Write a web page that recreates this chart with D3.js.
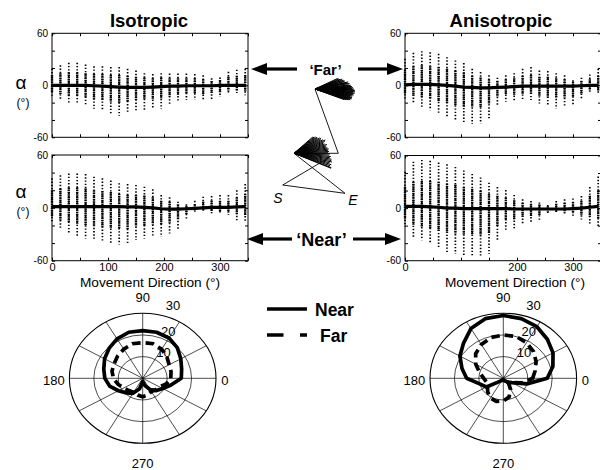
<!DOCTYPE html>
<html>
<head>
<meta charset="utf-8">
<script src="https://cdnjs.cloudflare.com/ajax/libs/d3/7.8.5/d3.min.js"></script>
<style>
body { margin: 0; background: #fff; }
text { font-family: "Liberation Sans", Arial, Helvetica, sans-serif; fill: #000; }
</style>
</head>
<body>
<script>
// movement directions (deg)
var directions = [0,15,30,45,60,75,90,105,120,135,150,165,180,195,210,225,240,255,270,285,300,315,330,345];

// alpha per direction: [min, dense low, mean, dense high, max]
var isoFar = [[-13.5,-8,0,12,19],[-17,-10,0,14,23],[-20.5,-12,0,15,26],[-21,-13,0,15,26],[-24,-14,0,14,24],[-27,-16,-0.5,13,22],[-29,-17,-1,13,22],[-33,-19,-1.5,12,21],[-35,-20,-2,12,21],[-32,-19,-2.5,11,19],[-30,-17,-2.5,10,17],[-29,-16,-2.5,9,14],[-27,-16,-2,8,13],[-27,-15,-1.5,9,14],[-23,-13,-1,8,13.5],[-19,-11,-1,8,13.5],[-17,-10,-0.5,8,13.5],[-17,-10,-0.5,8,13],[-17,-10,-0.5,7,11.5],[-16,-9,-0.5,5,8],[-13.5,-8,0,6,9],[-9,-6,0,10,15.5],[-9,-6,0,11,18],[-11.5,-7,0,12,19]];
var isoNear = [[-15.7,-10,1.5,20,33.5],[-25,-14,1.5,22,37],[-28,-16,1.5,23,39],[-32,-18,1.5,23,39],[-34.7,-20,1.5,22,38.4],[-37,-21,1.5,20,35.4],[-38.4,-22,1.5,19,33.5],[-40,-23,1.5,18,31],[-41.5,-24,1.5,16,28],[-41,-24,1,15,27],[-36.5,-21,1,15,26],[-34.7,-20,0.5,14,24],[-32,-19,0,12,21],[-32.8,-19,-1,8,14.6],[-29,-17,-1.5,7,12],[-25,-14,-1.5,4,7],[-12,-7,-1,2,4],[-4.4,-3,-0.5,4,8],[-4.4,-3,0,7,12.7],[-6,-4,0.5,8,13.4],[-5.5,-4,0.5,8,14.6],[-8,-5,0.5,8,14.6],[-14,-8,1,12,20],[-15.7,-9,1.5,16,27]];
var anisoFar = [[-17,-10,0.5,18,30.6],[-21,-12,1,22,37.5],[-24.8,-14,1,23,39.4],[-28.7,-16,1,22,38],[-32.5,-18,0.5,21,36.3],[-37,-21,0,19,32.5],[-41,-23,-1,17,28.7],[-44.7,-25,-2,15,25.6],[-44.7,-25,-2.5,11,19],[-44,-25,-3,9,15.3],[-39.4,-22,-3,7,11.5],[-23,-13,-2.5,5,8.8],[-19,-11,-2,7,11.5],[-19,-11,-1.5,8,14],[-17,-10,-1,11,19],[-17,-10,-1,12,21],[-21,-12,-1,10,17],[-24,-14,-1,10,16.4],[-26.7,-15,-1,8,14],[-24.8,-14,-1,7,11.5],[-23,-13,-1,4,5.7],[-17,-10,-0.5,5,8.8],[-9.6,-6,0,7,12.6],[-9.6,-6,0,11,19]];
var anisoNear = [[-21,-12,2,24,41.5],[-33,-19,2,30,53],[-36.6,-21,2,31,55],[-40,-23,1.5,31,54],[-46,-26,1,30,52],[-50,-28,0,28,50],[-52,-29,0,27,47],[-54,-30,-0.5,24,43],[-54,-30,-0.5,22,39],[-55,-31,-0.5,20,35],[-52,-29,-0.5,16,29],[-36.6,-21,-0.5,14,24],[-25,-14,-0.5,12,20.6],[-23,-13,-1,9,15],[-17.5,-10,-1,6,10],[-15.6,-9,-1,5,8],[-13.7,-8,-1,4,6.5],[-6,-4,-1,2,3.4],[-6,-4,-1,5,8],[-8,-5,-1,6,10],[-10,-6,-0.5,7,11],[-13,-8,0,8,13.7],[-17.5,-10,1,14,24],[-21,-12,2,20,36]];

// polar radius per direction
var isoNearR = [15.8,16.5,18,20,21.5,22,22,22,21,19.5,18,16.5,15.5,14,11.5,9.5,8,5,1.5,3.5,6,8,9.5,12];
var isoFarR = [11.5,12,12.5,14,15.5,16.5,16.5,16.5,15.5,14.5,13.5,13,12,10.5,9,8,7.5,8,8.5,8,7,7.5,8,10];
var anisoNearR = [18,21,23.5,25.5,27.5,28.5,29,28.5,26.5,23,20.5,17.5,15,10,8,2,1,1,1,1,1.5,2.5,4,10];
var anisoFarR = [12,13.5,15.5,17.5,19,20,20,19.5,18,16,13,10,8,7,7.5,9,10.5,11,10.5,9,6,3,4,8];

var yLabels = [60, 0, -60];
var yMinor = [-60,-40,-20,0,20,40,60];
var xMinor = [0,50,100,150,200,250,300,350];
var xLabelsIso = [0,100,200,300];
var xLabelsAniso = [0,200,300];
var rings = [10,20,30];
var spokes = [0,30,60,90,120,150];
var dirLabels = [0,90,180,270];

// arm sketch: fan ray angles (deg) and lengths (px)
var upperFanAng = [-25,-23,-21,-20,-18,-17,-15,-14,-12,-11,-10,-9,-7,-6,-5,-4,-3,-2,-1,0,1,2,3,4,5,6,7,8,9,10,11,12,13,14,15,16,17,18,19,20];
var upperFanLen = [25,26,27,29,28,30,31,30,34,32,33,35,34,36,35,37,36,38,37,39,38,40,39,40,38,40,39,38,39,37,38,36,38,37,38,36,37,35,33,31];
var lowerFanAng = [-41,-39,-37,-35,-33,-31,-29,-27,-25,-23,-21,-19,-17,-15,-13,-11,-9,-7,-5,-3,-1,1,3,5,7,9,11,13,15,17,19,21,22];
var lowerFanLen = [25,26,27,28,28,30,31,30,32,34,33,31,32,34,33,33,34,35,34,35,34,36,35,37,36,38,38,39,37,39,38,40,40];

var svg = d3.select("body").append("svg")
  .attr("width", 600).attr("height", 470)
  .style("background", "#fff");

function scatterPanel(data, x0, x1, y0, y1, xLabels) {
  var x = d3.scaleLinear().domain([0, 350]).range([x0, x1]);
  var y = d3.scaleLinear().domain([-60, 60]).range([y1, y0]);
  var g = svg.append("g");

  // columns of trial dots
  var col = g.selectAll(".col").data(data).enter().append("g");
  col.append("line")
    .attr("x1", function(d, i) { return x(directions[i]); })
    .attr("x2", function(d, i) { return x(directions[i]); })
    .attr("y1", function(d) { return y(d[4]); })
    .attr("y2", function(d) { return y(d[0]); })
    .attr("stroke", "#000").attr("stroke-width", 1.7)
    .attr("stroke-dasharray", "1.4,1.8");
  col.append("line")
    .attr("x1", function(d, i) { return x(directions[i]); })
    .attr("x2", function(d, i) { return x(directions[i]); })
    .attr("y1", function(d) { return y(d[3]); })
    .attr("y2", function(d) { return y(d[1]); })
    .attr("stroke", "#000").attr("stroke-width", 2.4)
    .attr("stroke-dasharray", "1.5,0.7");

  // mean
  g.append("path").datum(data)
    .attr("fill", "none").attr("stroke", "#000").attr("stroke-width", 3.2)
    .attr("d", d3.line()
      .x(function(d, i) { return x(directions[i]); })
      .y(function(d) { return y(d[2]); }));

  // inward ticks
  [y0, y1].forEach(function(yy, k) {
    var ax = (k === 0 ? d3.axisTop(x) : d3.axisBottom(x)).tickValues(xMinor).tickSize(-3).tickFormat("");
    g.append("g").attr("transform", "translate(0," + yy + ")").call(ax)
      .call(function(s) { s.select(".domain").remove(); });
  });
  [x0, x1].forEach(function(xx, k) {
    var ax = (k === 0 ? d3.axisLeft(y) : d3.axisRight(y)).tickValues(yMinor).tickSize(-3).tickFormat("");
    g.append("g").attr("transform", "translate(" + xx + ",0)").call(ax)
      .call(function(s) { s.select(".domain").remove(); });
  });

  // y labels
  g.append("g").attr("transform", "translate(" + x0 + ",0)")
    .call(d3.axisLeft(y).tickValues(yLabels).tickSize(0).tickPadding(4)
      .tickFormat(function(d) { return String(d); }))
    .call(function(s) {
      s.select(".domain").remove();
      s.selectAll("text").attr("font-size", 10).attr("font-family", null);
    });

  if (xLabels) {
    g.append("g").attr("transform", "translate(0," + y1 + ")")
      .call(d3.axisBottom(x).tickValues(xLabels).tickSize(0).tickPadding(2)
        .tickFormat(function(d) { return String(d); }))
      .call(function(s) {
        s.select(".domain").remove();
        s.selectAll("text").attr("font-size", 11).attr("font-family", null);
      });
    g.append("text").attr("x", (x0 + x1) / 2 + (x0 > 300 ? 12 : 0)).attr("y", y1 + 26)
      .attr("text-anchor", "middle").attr("font-size", 13.7)
      .text("Movement Direction (\u00b0)");
  }

  g.append("rect").attr("x", x0).attr("y", y0)
    .attr("width", x1 - x0).attr("height", y1 - y0)
    .attr("fill", "none").attr("stroke", "#000").attr("stroke-width", 1);
}

scatterPanel(isoFar, 52, 248, 33.3, 137.3, null);
scatterPanel(isoNear, 52, 248, 155, 260.7, xLabelsIso);
scatterPanel(anisoFar, 405, 601, 33.3, 137.3, null);
scatterPanel(anisoNear, 405, 601, 155.5, 260.7, xLabelsAniso);

// titles
svg.append("text").attr("x", 149).attr("y", 27).attr("text-anchor", "middle")
  .attr("font-size", 18.5).attr("font-weight", "bold").text("Isotropic");
svg.append("text").attr("x", 501).attr("y", 27).attr("text-anchor", "middle")
  .attr("font-size", 18.5).attr("font-weight", "bold").text("Anisotropic");

// alpha labels
[83, 192].forEach(function(cy) {
  svg.append("text").attr("x", 21).attr("y", cy + 6).attr("text-anchor", "middle")
    .attr("font-size", 19).text("\u03b1");
  svg.append("text").attr("x", 23).attr("y", cy + 24).attr("text-anchor", "middle")
    .attr("font-size", 12).text("(\u00b0)");
});

// arrows
function arrow(xFrom, xTip, yy) {
  var dir = xTip > xFrom ? 1 : -1;
  var head = 16, half = 6;
  svg.append("line").attr("x1", xFrom).attr("x2", xTip - dir * head + dir)
    .attr("y1", yy).attr("y2", yy).attr("stroke", "#000").attr("stroke-width", 3.2);
  svg.append("path")
    .attr("d", "M" + xTip + "," + yy + "L" + (xTip - dir * head) + "," + (yy - half) +
      "L" + (xTip - dir * head) + "," + (yy + half) + "Z")
    .attr("fill", "#000");
}
arrow(297, 251, 69);
arrow(358, 403, 69);
arrow(292, 247, 239);
arrow(353, 401, 239);
svg.append("text").attr("x", 325.5).attr("y", 74.5).attr("text-anchor", "middle")
  .attr("font-size", 15).attr("font-weight", "bold").text("\u2018Far\u2019");
svg.append("text").attr("x", 321.5).attr("y", 245.5).attr("text-anchor", "middle")
  .attr("font-size", 18).attr("font-weight", "bold").text("\u2018Near\u2019");

// arm sketch
var arm = svg.append("g").attr("stroke", "#000").attr("fill", "none").attr("stroke-width", 0.9);
var U = [315, 89], K = [338.3, 153.3], L = [294, 153.3], S = [282.7, 185], E = [345, 193.3], P = [325, 160];
arm.append("path").attr("d", d3.line()([U, K, L]));
arm.append("path").attr("d", d3.line()([L, E]));
arm.append("path").attr("d", d3.line()([P, S, E]));
function fan(o, angs, lens) {
  angs.forEach(function(a, i) {
    var r = a * Math.PI / 180;
    arm.append("line").attr("x1", o[0]).attr("y1", o[1])
      .attr("x2", o[0] + lens[i] * Math.cos(r)).attr("y2", o[1] + lens[i] * Math.sin(r))
      .attr("stroke-width", 1);
  });
}
fan(U, upperFanAng, upperFanLen);
fan(L, lowerFanAng, lowerFanLen);
svg.append("text").attr("x", 278).attr("y", 203).attr("text-anchor", "middle")
  .attr("font-family", "'Liberation Serif', 'Times New Roman', serif")
  .attr("font-style", "italic").attr("font-size", 14).text("S");
svg.append("text").attr("x", 353).attr("y", 205).attr("text-anchor", "middle")
  .attr("font-family", "'Liberation Serif', 'Times New Roman', serif")
  .attr("font-style", "italic").attr("font-size", 14).text("E");

// legend
svg.append("line").attr("x1", 267).attr("x2", 307).attr("y1", 309).attr("y2", 309)
  .attr("stroke", "#000").attr("stroke-width", 3.5);
svg.append("line").attr("x1", 267).attr("x2", 307).attr("y1", 335).attr("y2", 335)
  .attr("stroke", "#000").attr("stroke-width", 3.5).attr("stroke-dasharray", "16.5,16.5");
svg.append("text").attr("x", 315).attr("y", 315.5).attr("font-size", 17.5)
  .attr("font-weight", "bold").text("Near");
svg.append("text").attr("x", 320).attr("y", 341.5).attr("font-size", 17.5)
  .attr("font-weight", "bold").text("Far");

// polar plots
function polarPanel(cx, cy, nearR, farR) {
  var px = d3.scaleLinear().domain([-30, 30]).range([cx - 73.3, cx + 73.3]);
  var py = d3.scaleLinear().domain([-30, 30]).range([cy + 65, cy - 65]);
  var g = svg.append("g");
  rings.forEach(function(r) {
    g.append("ellipse").attr("cx", cx).attr("cy", cy)
      .attr("rx", px(r) - cx).attr("ry", cy - py(r))
      .attr("fill", "none").attr("stroke", "#000")
      .attr("stroke-width", r === 30 ? 1.1 : 0.7);
  });
  spokes.forEach(function(a) {
    var t = a * Math.PI / 180;
    g.append("line")
      .attr("x1", px(-30 * Math.cos(t))).attr("y1", py(-30 * Math.sin(t)))
      .attr("x2", px(30 * Math.cos(t))).attr("y2", py(30 * Math.sin(t)))
      .attr("stroke", "#000").attr("stroke-width", 0.7);
  });
  rings.forEach(function(r) {
    var t = 80 * Math.PI / 180;
    g.append("text").attr("x", px(r * Math.cos(t)) + 16 + r * 0.05).attr("y", py(r * Math.sin(t)) + (r === 30 ? -4 : 0))
      .attr("text-anchor", "middle").attr("font-size", 13).text(r);
  });
  var pos = {0: [cx + 78.5, cy + 6.5, "start"], 90: [cx, cy - 76, "middle"],
             180: [cx - 78, cy + 6.5, "end"], 270: [cx, cy + 90, "middle"]};
  dirLabels.forEach(function(d) {
    g.append("text").attr("x", pos[d][0]).attr("y", pos[d][1])
      .attr("text-anchor", pos[d][2]).attr("font-size", 13).text(d);
  });
  var line = d3.line()
    .x(function(r, i) { return px(r * Math.cos(directions[i] * Math.PI / 180)); })
    .y(function(r, i) { return py(r * Math.sin(directions[i] * Math.PI / 180)); })
    .curve(d3.curveLinearClosed);
  g.append("path").datum(nearR).attr("d", line)
    .attr("fill", "none").attr("stroke", "#000").attr("stroke-width", 3.7)
    .attr("stroke-linejoin", "round");
  g.append("path").datum(farR).attr("d", line)
    .attr("fill", "none").attr("stroke", "#000").attr("stroke-width", 3.7)
    .attr("stroke-dasharray", "8.5,5");
}
polarPanel(142.7, 378.3, isoNearR, isoFarR);
polarPanel(503.3, 378.3, anisoNearR, anisoFarR);
</script>
</body>
</html>
